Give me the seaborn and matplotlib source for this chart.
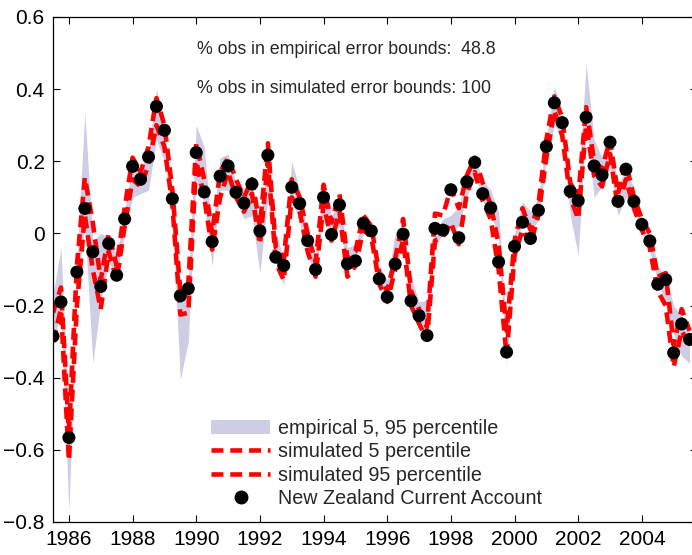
import numpy as np
import pandas as pd
import matplotlib
matplotlib.use("Agg")
import matplotlib.pyplot as plt
from matplotlib.lines import Line2D
from matplotlib.patches import Patch
import seaborn as sns

# Quarterly dates, 1985Q3 .. 2005Q3
quarters = np.arange(1985.5, 2005.51, 0.25)

# New Zealand current account (observed)
current_account = [
    -0.285, -0.190, -0.566, -0.107, 0.069, -0.051, -0.147, -0.028, -0.116, 0.040,
    0.186, 0.150, 0.212, 0.352, 0.286, 0.096, -0.173, -0.153, 0.224, 0.115,
    -0.023, 0.159, 0.187, 0.114, 0.084, 0.137, 0.007, 0.217, -0.066, -0.089,
    0.128, 0.083, -0.020, -0.100, 0.100, -0.003, 0.079, -0.084, -0.076, 0.028,
    0.007, -0.126, -0.176, -0.085, -0.002, -0.187, -0.228, -0.283, 0.014, 0.009,
    0.121, -0.012, 0.143, 0.197, 0.110, 0.071, -0.079, -0.329, -0.036, 0.031,
    -0.014, 0.064, 0.241, 0.362, 0.307, 0.117, 0.091, 0.322, 0.187, 0.162,
    0.253, 0.089, 0.178, 0.089, 0.025, -0.021, -0.141, -0.128, -0.331, -0.251,
    -0.294,
]

# Simulated error bounds (5th and 95th percentile)
sim_p05 = [
    -0.300, -0.210, -0.630, -0.200, 0.050, -0.100, -0.210, -0.050, -0.130, 0.020,
    0.150, 0.130, 0.190, 0.300, 0.240, 0.080, -0.225, -0.220, 0.200, 0.100,
    -0.045, 0.100, 0.170, 0.100, 0.060, 0.110, -0.030, 0.200, -0.080, -0.130,
    0.100, 0.060, -0.050, -0.120, 0.080, -0.020, 0.060, -0.120, -0.090, 0.010,
    -0.010, -0.140, -0.190, -0.100, -0.020, -0.200, -0.250, -0.295, -0.020, -0.010,
    0.030, -0.030, 0.110, 0.170, 0.090, 0.040, -0.100, -0.340, -0.060, 0.010,
    -0.030, 0.050, 0.210, 0.340, 0.270, 0.100, 0.040, 0.300, 0.160, 0.130,
    0.220, 0.070, 0.150, 0.070, 0.010, -0.040, -0.160, -0.200, -0.370, -0.270,
    -0.310,
]
sim_p95 = [
    -0.220, -0.150, -0.550, -0.090, 0.155, 0.030, -0.130, 0.000, -0.090, 0.070,
    0.210, 0.170, 0.240, 0.375, 0.300, 0.120, -0.160, -0.140, 0.250, 0.150,
    0.000, 0.170, 0.210, 0.150, 0.100, 0.150, 0.020, 0.250, -0.040, -0.070,
    0.150, 0.100, 0.000, -0.080, 0.135, 0.030, 0.110, -0.070, -0.050, 0.050,
    0.020, -0.110, -0.160, -0.070, 0.040, -0.160, -0.210, -0.260, 0.055, 0.050,
    0.125, 0.070, 0.160, 0.210, 0.140, 0.080, -0.030, -0.270, -0.020, 0.070,
    0.010, 0.080, 0.260, 0.380, 0.320, 0.140, 0.100, 0.350, 0.200, 0.180,
    0.260, 0.110, 0.195, 0.100, 0.040, 0.000, -0.120, -0.110, -0.310, -0.210,
    -0.270,
]

# Empirical error bounds (5th and 95th percentile)
emp_p05 = [
    -0.300, -0.220, -0.770, -0.170, 0.020, -0.360, -0.190, -0.080, -0.120, 0.000,
    0.100, 0.110, 0.120, 0.260, 0.200, 0.040, -0.405, -0.300, 0.150, 0.080,
    -0.090, 0.120, 0.120, 0.090, 0.040, 0.050, -0.110, 0.100, -0.080, -0.145,
    0.100, 0.030, -0.060, -0.120, 0.060, -0.020, 0.020, -0.100, -0.070, 0.000,
    0.000, -0.130, -0.190, -0.100, -0.030, -0.210, -0.240, -0.270, -0.040, 0.000,
    0.010, 0.020, 0.100, 0.167, 0.088, 0.060, -0.020, -0.360, -0.070, 0.040,
    0.000, 0.040, 0.200, 0.300, 0.270, 0.050, -0.060, 0.300, 0.100, 0.130,
    0.180, 0.050, 0.100, 0.070, 0.000, -0.050, -0.130, -0.200, -0.280, -0.340,
    -0.360,
]
emp_p95 = [
    -0.170, -0.040, -0.520, -0.070, 0.335, -0.020, 0.000, -0.010, -0.060, 0.060,
    0.190, 0.180, 0.230, 0.400, 0.290, 0.120, -0.170, -0.130, 0.300, 0.240,
    0.000, 0.210, 0.220, 0.140, 0.120, 0.150, 0.020, 0.210, 0.000, -0.070,
    0.200, 0.120, 0.000, -0.060, 0.130, 0.050, 0.085, -0.040, -0.030, 0.040,
    0.030, -0.090, -0.130, 0.000, 0.030, -0.120, -0.190, -0.185, 0.000, 0.040,
    0.050, 0.074, 0.157, 0.209, 0.148, 0.120, 0.060, -0.270, 0.000, 0.088,
    0.060, 0.100, 0.260, 0.407, 0.330, 0.140, 0.120, 0.470, 0.260, 0.210,
    0.260, 0.140, 0.170, 0.130, 0.050, 0.000, -0.090, -0.120, -0.200, -0.230,
    -0.270,
]

year_ticks = [1986, 1988, 1990, 1992, 1994, 1996, 1998, 2000, 2002, 2004]
value_ticks = [-0.8, -0.6, -0.4, -0.2, 0, 0.2, 0.4, 0.6]

df = pd.DataFrame({
    "quarter": quarters,
    "obs": current_account,
    "sim_lo": sim_p05,
    "sim_hi": sim_p95,
    "emp_lo": emp_p05,
    "emp_hi": emp_p95,
})

sns.set_theme(style="white")
plt.rcParams["font.family"] = ["Liberation Sans", "DejaVu Sans"]
plt.rcParams["xtick.direction"] = "in"
plt.rcParams["ytick.direction"] = "in"

band_color = "#cdcde6"
red = "#ff0000"
red_dashes = (2.6, 1.5)

fig = plt.figure(figsize=(6.92, 5.55), dpi=100)
ax = fig.add_axes([0.0766, 0.0595, 0.9305, 0.9099])

ax.fill_between(df["quarter"], df["emp_lo"], df["emp_hi"],
                color=band_color, linewidth=0, zorder=1)
sns.lineplot(data=df, x="quarter", y="sim_lo", ax=ax, color=red,
             linewidth=3.3, zorder=2)
sns.lineplot(data=df, x="quarter", y="sim_hi", ax=ax, color=red,
             linewidth=3.3, zorder=2)
ax.lines[0].set_dashes(red_dashes)
ax.lines[1].set_dashes(red_dashes)
sns.scatterplot(data=df, x="quarter", y="obs", ax=ax, color="black",
                s=88, edgecolor="none", zorder=3)

ax.set_xlim(1985.5, 2005.73)
ax.set_ylim(-0.8, 0.6)
ax.set_xticks(year_ticks)
ax.set_xticklabels([str(y) for y in year_ticks])
ax.set_yticks(value_ticks)
ax.set_yticklabels(["\u22120.8", "\u22120.6", "\u22120.4", "\u22120.2", "0", "0.2", "0.4", "0.6"])
ax.set_xlabel("")
ax.set_ylabel("")
ax.tick_params(axis="both", which="both", direction="in", length=5, width=0.8,
               labelsize=15, colors="black", top=True, right=True,
               bottom=True, left=True)
ax.tick_params(axis="x", pad=6)
ax.tick_params(axis="y", pad=6)
for side in ax.spines.values():
    side.set_color("black")
    side.set_linewidth(0.9)

fig.text(0.285, 0.91, "% obs in empirical error bounds:  48.8",
         fontsize=12.8, va="center", ha="left")
fig.text(0.285, 0.841, "% obs in simulated error bounds: 100",
         fontsize=12.8, va="center", ha="left")

handles = [
    Patch(facecolor=band_color, edgecolor="none"),
    Line2D([], [], color=red, linewidth=3.3, dashes=red_dashes),
    Line2D([], [], color=red, linewidth=3.3, dashes=red_dashes),
    Line2D([], [], color="black", linestyle="none", marker="o", markersize=9),
]
labels = ["empirical 5, 95 percentile", "simulated 5 percentile",
          "simulated 95 percentile", "New Zealand Current Account"]
leg = ax.legend(handles, labels, loc="upper left",
                bbox_to_anchor=(0.305, 0.245), bbox_transform=fig.transFigure,
                frameon=False, fontsize=14.2, handlelength=3.0,
                handletextpad=0.4, labelspacing=0.22, borderpad=0,
                borderaxespad=0)

fig.savefig("out.png", dpi=100)
